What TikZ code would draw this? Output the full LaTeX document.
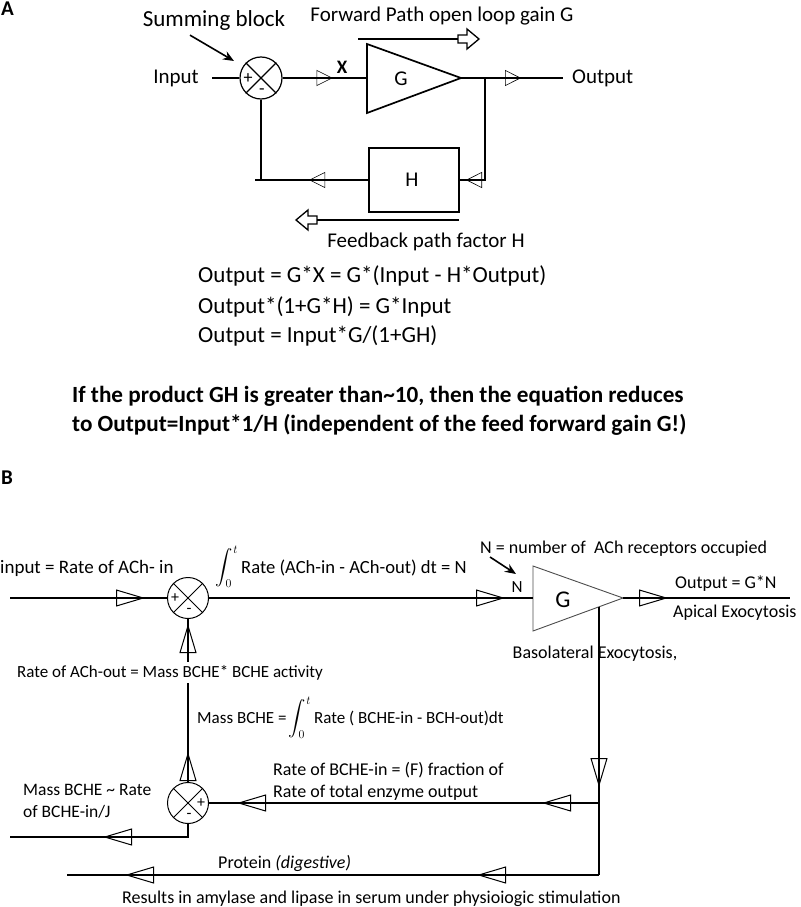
\documentclass[tikz,border=0pt]{standalone}
\usepackage{exscale}
\usepackage{fontspec}
\setmainfont{Carlito}
\usetikzlibrary{arrows.meta,decorations.markings}
\newcommand{\myfs}[1]{\fontsize{#1}{#1}\selectfont}
\begin{document}
\begin{tikzpicture}[x=1pt,y=-1pt,
  lblA/.style={font=\myfs{21}, inner sep=0pt},
  lblB/.style={font=\myfs{18}, inner sep=0pt},
  eqn/.style={font=\myfs{23}, inner sep=0pt, anchor=base west},
  bold/.style={font=\bfseries\myfs{23.2}, inner sep=0pt, anchor=base west},
  wireA/.style={line width=1.6pt},
  wireB/.style={line width=1.2pt},
  trA/.style={postaction={decorate,decoration={markings,mark=at position #1 with {\arrow[line width=0.6pt]{Triangle[open,length=16pt,width=16pt]}}}}},
  trB/.style={postaction={decorate,decoration={markings,mark=at position #1 with {\arrow[line width=1pt]{Triangle[open,length=29pt,width=17pt]}}}}},
  sumA/.style={circle,draw,line width=1.2pt,minimum size=42pt,inner sep=0pt},
  sumB/.style={circle,draw,line width=1pt,minimum size=41pt,inner sep=0pt},
  sign/.style={inner sep=0pt,font=\myfs{18}},
  signB/.style={inner sep=0pt,font=\myfs{16}},
  ptr/.style={-{Stealth[length=11pt,width=9pt]}, line width=1.6pt},
  blk/.style={line width=1.3pt},
  integ/.style={inner sep=0pt, font=\myfs{17}}
]
\useasboundingbox (0,0) rectangle (800,907);

% ================= Panel A =================
\node[font=\bfseries\myfs{21}, inner sep=0pt, anchor=base west] (labA) at (1,16) {A};

\node[font=\myfs{23}, inner sep=0pt, anchor=base] (sumtxt) at (214,27) {Summing block};
\node[sumA] (sA) at (261,78) {};
\draw[line width=1.1pt] (sA.45) -- (sA.225) (sA.135) -- (sA.315);
\node[sign] (sAp) at (248,79) {+};
\node[sign] (sAm) at (262,92) {-};
\coordinate (sumtip) at (234,61);
\draw[ptr] (sumtxt.south) ++(-24,4) coordinate (sumtail) -- (sumtip);

\node[lblA, anchor=base] (inA) at (176,84) {Input};
\coordinate (inAs) at (212,78);
\draw[wireA] (inAs) -- (sA.west);

% G triangle
\coordinate (GAtop) at (367,44);
\coordinate (GAbot) at (367,113);
\coordinate (GAtip) at (461,78);
\coordinate (GAin) at (367,78);
\draw[line width=1.7pt] (GAtop) -- (GAtip) -- (GAbot) -- cycle;
\node[lblA] (GAl) at (401,79) {G};
\draw[wireA, trA=50pt] (sA.east) -- (GAin);
\node[font=\bfseries\myfs{19}, inner sep=0pt, anchor=base] (XA) at (342,74) {X};

% output
\coordinate (outAe) at (563,78);
\draw[wireA, trA=60pt] (GAtip) -- (outAe);
\node[lblA, anchor=base west] (outA) at (572,84) {Output};

% forward path label + block arrow
\node[lblA, anchor=base] (fwd) at (442,22) {Forward Path open loop gain G};
\coordinate (fwS) at (358,39);
\coordinate (fwE) at (458,39);
\draw[wireA] (fwS) -- (fwE);
\draw[blk] (fwE) ++(0,-4) -- ++(9,0) -- ++(0,-6) -- ++(12,10) -- ++(-12,10) -- ++(0,-6) -- ++(-9,0) -- cycle;

% H box and feedback
\node[draw, line width=1.7pt, minimum width=90pt, minimum height=64pt, inner sep=0pt] (HA) at (414,180) {};
\node[lblA] (HAl) at (412,180) {H};
\coordinate (tapA) at (485,78);
\draw[wireA, trA=121pt] (tapA) |- (HA.east);
\coordinate (fbL) at (255,180);
\draw[wireA, trA=59pt] (HA.west) -- (fbL);
\draw[wireA] (sA.south) -- (sA.south |- fbL);

\coordinate (fbS) at (459,220);
\coordinate (fbE) at (317,220);
\draw[wireA] (fbS) -- (fbE);
\draw[blk] (fbE) ++(0,-4) -- ++(-9,0) -- ++(0,-6) -- ++(-12,10) -- ++(12,10) -- ++(0,-6) -- ++(9,0) -- cycle;
\node[lblA, anchor=base] (fbl) at (426,247) {Feedback path factor H};

% equations
\node[eqn] (eq1) at (198,282) {Output = G*X = G*(Input - H*Output)};
\node[eqn] (eq2) at (198,313) {Output*(1+G*H) = G*Input};
\node[eqn] (eq3) at (198,342) {Output = Input*G/(1+GH)};

\node[bold] (bt1) at (72,402) {If the product GH is greater than\textasciitilde10, then the equation reduces};
\node[bold] (bt2) at (72,431) {to Output=Input*1/H (independent of the feed forward gain G!)};

% ================= Panel B =================
\node[font=\bfseries\myfs{21}, inner sep=0pt, anchor=base west] (labB) at (1,484) {B};

\node[font=\myfs{19}, inner sep=0pt, anchor=base west] (inBl) at (0,573) {input = Rate of ACh- in};
\coordinate (inB) at (10,598);
\node[sumB] (sB1) at (188,598) {};
\draw[line width=1pt] (sB1.45) -- (sB1.225) (sB1.135) -- (sB1.315);
\node[signB] (sB1p) at (175,598) {+};
\node[signB] (sB1m) at (189,611) {-};
\draw[wireB, trB=135pt] (inB) -- (sB1.west);

% G triangle B
\coordinate (GBtop) at (533,566);
\coordinate (GBbot) at (533,631);
\coordinate (GBtip) at (623,598);
\coordinate (GBin) at (533,598);
\draw[line width=0.9pt, draw=black!70] (GBtop) -- (GBtip) -- (GBbot) -- cycle;
\node[font=\myfs{24}, inner sep=0pt] (GBl) at (563,600) {G};
\draw[wireB, trB=296pt] (sB1.east) -- (GBin);
\node[font=\myfs{17}, inner sep=0pt, anchor=base] (Nl) at (517,592) {N};

\node[integ] (int1) at (227,567) {$\displaystyle\int_{0}^{t}$};
\node[font=\myfs{18.6}, inner sep=0pt, anchor=base west] (int1t) at (241,573) {Rate (ACh-in - ACh-out) dt = N};
\node[lblB, anchor=base west] (Ndef) at (480,553) {N = number of\ \ ACh receptors occupied};
\coordinate (Nptr) at (516,574);
\draw[ptr] (490,557) coordinate (Ntail) -- (Nptr);

% output B
\coordinate (outBe) at (790,598);
\draw[wireB, trB=45pt] (GBtip) -- (outBe);
\node[lblB, anchor=base west] (outB) at (675,588) {Output = G*N};
\node[lblB, anchor=base west] (apB) at (673,617) {Apical Exocytosis};

% basolateral branch
\coordinate (basS) at (599,607);
\coordinate (junc) at (599,803);
\draw[wireB, trB=180pt] (basS) -- (junc);
\node[lblB, anchor=base] (basl) at (595,658) {Basolateral Exocytosis,};

% second summing block
\node[sumB] (sB2) at (188,803) {};
\draw[line width=1pt] (sB2.45) -- (sB2.225) (sB2.135) -- (sB2.315);
\node[signB] (sB2p) at (201,803) {+};
\node[signB] (sB2m) at (189,816) {-};
\draw[wireB, trB=57pt, trB=362pt] (junc) -- (sB2.east);

\coordinate (botR) at (599,875);
\coordinate (botL) at (67,875);
\draw[wireB] (junc) -- (botR);
\draw[wireB, trB=122pt, trB=474pt] (botR) -- (botL);

\coordinate (mbL) at (10,837);
\draw[wireB, trB=98pt] (sB2.south) |- (mbL);

\draw[wireB, trB=30pt, trB=158pt] (sB2.north) -- (sB1.south);

\node[font=\myfs{17}, inner sep=0pt, anchor=base, fill=white, inner ysep=3pt] (achout) at (170,677) {Rate of ACh-out = Mass BCHE* BCHE activity};
\node[font=\myfs{17}, inner sep=0pt, anchor=base west] (mb1) at (197,723) {Mass BCHE =};
\node[integ] (int2) at (300,718) {$\displaystyle\int_{0}^{t}$};
\node[font=\myfs{17}, inner sep=0pt, anchor=base west] (mb2) at (314,723) {Rate ( BCHE-in - BCH-out)dt};

\node[lblB, anchor=base west] (rb1) at (273,775) {Rate of BCHE-in = (F) fraction of};
\node[lblB, anchor=base west] (rb2) at (273,797) {Rate of total enzyme output};
\node[font=\myfs{17.5}, inner sep=0pt, anchor=base west] (mr1) at (23,795) {Mass BCHE \textasciitilde{} Rate};
\node[font=\myfs{17.5}, inner sep=0pt, anchor=base west] (mr2) at (23,817) {of BCHE-in/J};

\node[lblB, anchor=base west] (prot) at (218,868) {Protein \textit{(digestive)}};
\node[lblB, anchor=base west] (res) at (122,903) {Results in amylase and lipase in serum under physioiogic stimulation};
\end{tikzpicture}
\end{document}
